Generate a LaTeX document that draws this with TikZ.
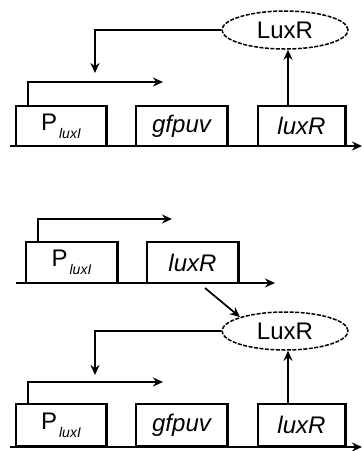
\documentclass[tikz,border=0pt]{standalone}
\usepackage{fontspec}
\setmainfont{Liberation Sans}
\usetikzlibrary{arrows.meta,shapes.geometric}
\tikzset{
  gene/.style={draw, line width=1.6pt, minimum height=40pt, inner sep=0pt, font=\fontsize{24}{26}\selectfont},
  prot/.style={draw, dashed, dash pattern=on 4pt off 1.5pt, ellipse, line width=1.5pt, minimum width=126pt, minimum height=38pt, inner sep=0pt, font=\fontsize{24}{26}\selectfont},
  conn/.style={line width=1.7pt, -{Stealth[length=10pt,width=9pt]}},
  base/.style={line width=2.2pt, -{Stealth[length=10pt,width=9pt]}},
}
\newcommand{\plux}{P\kern2pt\raisebox{-8pt}{\fontsize{14}{14}\selectfont\itshape luxI}}
\begin{document}
\begin{tikzpicture}[x=1pt,y=-1pt]
\useasboundingbox (0,0) rectangle (362,451);
% ---- top construct ----
\node[gene, minimum width=90pt] (p1) at (61,126) {\plux};
\node[gene, minimum width=91pt] (g1) at (181.5,126) {\itshape gfpuv};
\node[gene, minimum width=87pt] (l1) at (301.5,126) {\itshape luxR};
\coordinate (b1s) at (10,146);
\coordinate (b1e) at (362,146);
\draw[base] (b1s) -- (b1e);
\node[prot] (e1) at (285,30) {LuxR};
\coordinate (t1) at (163,82);
\coordinate (f1) at (95,73);
\draw[conn] (p1.north west) ++(13pt,0) |- (t1);
\draw[conn] (e1.west) -| (f1);
\draw[conn] (l1.north -| 288,0) -- (e1.south -| 288,0);
% ---- middle construct ----
\node[gene, minimum width=91pt, minimum height=41pt] (p2) at (71.5,262.5) {\plux};
\node[gene, minimum width=91pt, minimum height=41pt] (l2) at (192.5,262.5) {\itshape luxR};
\coordinate (b2s) at (16,283);
\coordinate (b2e) at (275,283);
\draw[base] (b2s) -- (b2e);
\coordinate (t2) at (172,219);
\draw[conn] (p2.north west) ++(13pt,0) |- (t2);
% ---- bottom construct ----
\node[prot] (e2) at (285,331) {LuxR};
\coordinate (d2) at (205,288);
\draw[conn] (d2) -- (e2.north west);
\node[gene, minimum width=90pt, minimum height=42pt] (p3) at (61,425) {\plux};
\node[gene, minimum width=91pt, minimum height=42pt] (g3) at (181.5,425) {\itshape gfpuv};
\node[gene, minimum width=87pt, minimum height=42pt] (l3) at (301.5,425) {\itshape luxR};
\coordinate (b3s) at (10,447);
\coordinate (b3e) at (362,447);
\draw[base] (b3s) -- (b3e);
\coordinate (t3) at (163,382);
\coordinate (f3) at (95,375);
\draw[conn] (p3.north west) ++(13pt,0) |- (t3);
\draw[conn] (e2.west) -| (f3);
\draw[conn] (l3.north -| 288,0) -- (e2.south -| 288,0);
% thicker right edges (shadow look)
\foreach \n in {p1,g1,l1,p2,l2,p3,g3,l3}
  \draw[line width=2.8pt] ([xshift=-0.6pt]\n.north east) -- ([xshift=-0.6pt]\n.south east);
\end{tikzpicture}
\end{document}
